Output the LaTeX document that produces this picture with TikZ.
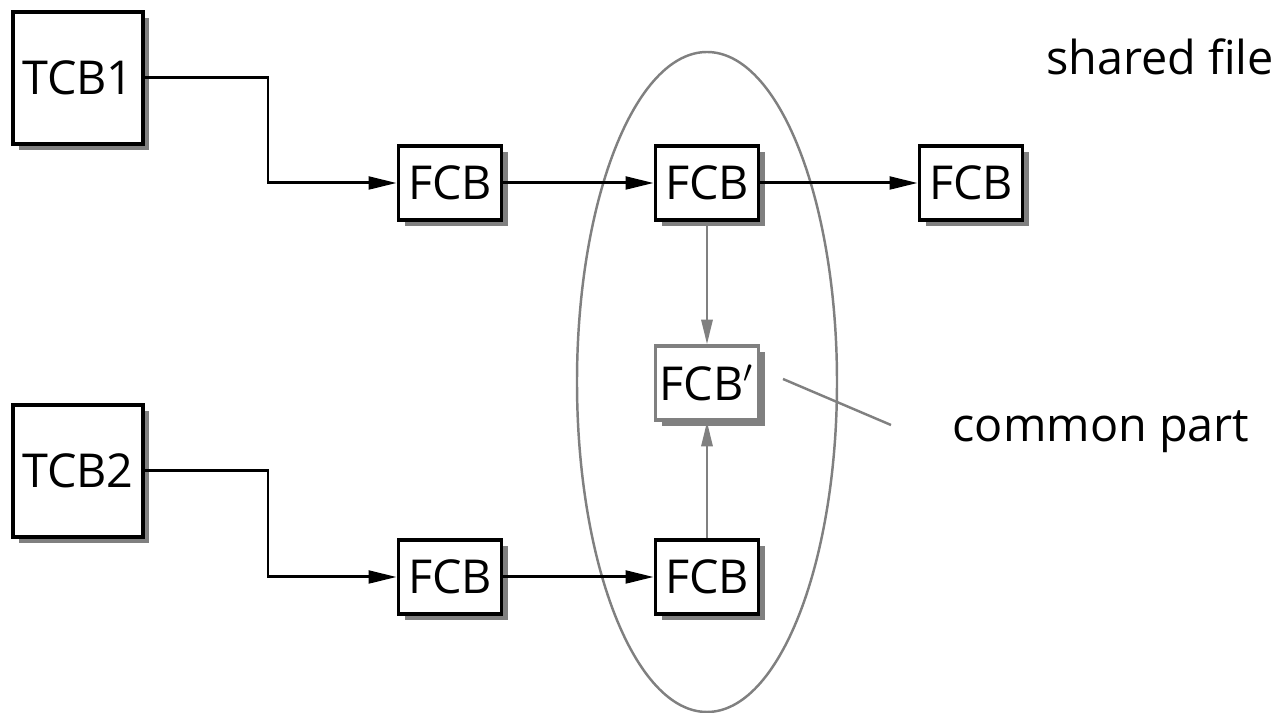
\documentclass[tikz,border=0pt]{standalone}
\usepackage{fontspec}
\setmainfont{Open Sans}
\usetikzlibrary{arrows.meta,shadows}

\tikzset{
  cb/.style={draw,fill=white,line width=1pt,inner sep=0pt,
    drop shadow={shadow xshift=0.06cm,shadow yshift=-0.06cm,opacity=1,fill=gray}},
  tcb/.style={cb,minimum width=1.30cm,minimum height=1.32cm},
  fcb/.style={cb,minimum width=1.03cm,minimum height=0.74cm},
  link/.style={line width=0.85pt,-{Triangle[length=8pt,width=3.6pt]}},
  glink/.style={gray,line width=0.7pt,-{Triangle[length=7pt,width=3.2pt]}}
}

\begin{document}
\begin{tikzpicture}[font=\fontsize{13.3}{15}\selectfont]
  \useasboundingbox (0,0) rectangle (12.72,7.13);

  % the common part
  \draw[gray,line width=0.7pt] (7.07,3.31) ellipse [x radius=1.30cm,y radius=3.30cm];

  \node[tcb](t1) at (0.78,6.35){TCB1};
  \node[tcb](t2) at (0.78,2.42){TCB2};

  \node[fcb](f1) at (4.50,5.30){FCB};
  \node[fcb](f2) at (7.07,5.30){FCB};
  \node[fcb](f3) at (9.71,5.30){FCB};
  \node[fcb,draw=gray](fc) at (7.07,3.30){FCB$'$};
  \node[fcb](f4) at (4.50,1.36){FCB};
  \node[fcb](f5) at (7.07,1.36){FCB};

  \coordinate (k1) at (2.68,5.30);
  \coordinate (k2) at (2.68,1.36);
  \draw[link] (t1.east) -| (k1) -- (f1.west);
  \draw[link] (t2.east) -| (k2) -- (f4.west);
  \draw[link] (f1) -- (f2);
  \draw[link] (f2) -- (f3);
  \draw[link] (f4) -- (f5);
  \draw[glink] (f2) -- (fc);
  \draw[glink] (f5) -- (fc);

  \node[anchor=base](shared) at (11.60,6.38){shared file};
  \node[anchor=base](common) at (11.01,2.71){common part};
  \coordinate (p1) at (7.83,3.34);
  \coordinate (p2) at (8.91,2.88);
  \draw[gray,line width=0.7pt] (p1) -- (p2);
\end{tikzpicture}
\end{document}
